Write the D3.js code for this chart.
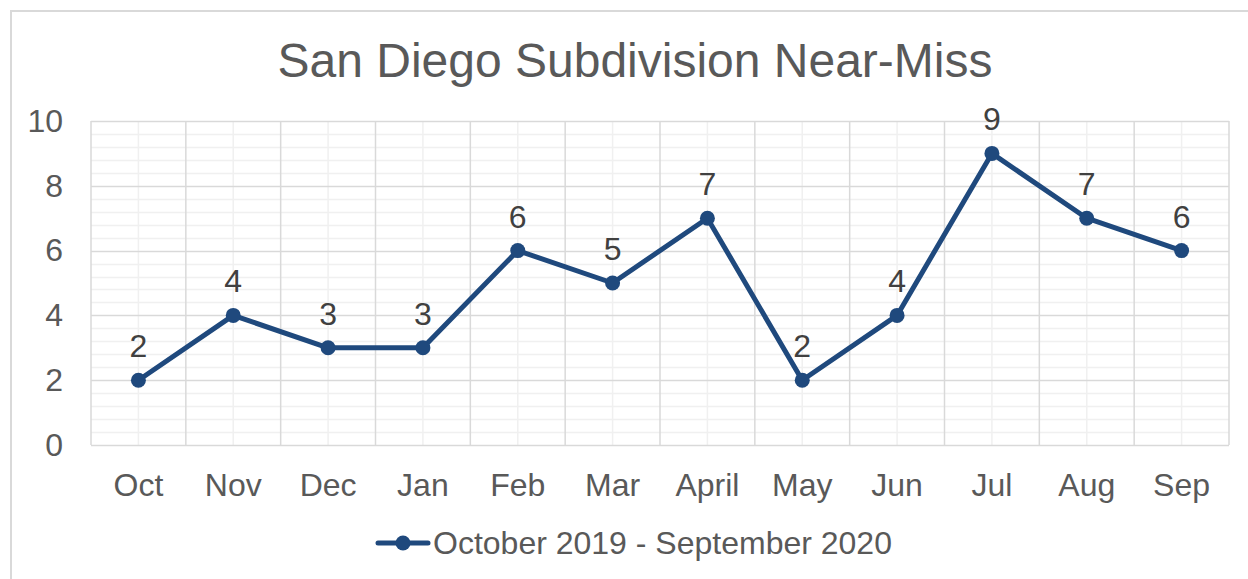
<!DOCTYPE html>
<html>
<head>
<meta charset="utf-8">
<script src="https://cdn.jsdelivr.net/npm/d3@7"></script>
<style>
  html, body { margin: 0; padding: 0; background: #fff; }
  svg { display: block; font-family: "Liberation Sans", Arial, sans-serif; }
</style>
</head>
<body>
<svg id="chart" width="1248" height="579"></svg>
<script>
// Monthly near-miss counts, San Diego Subdivision
const months = ["Oct", "Nov", "Dec", "Jan", "Feb", "Mar", "April", "May", "Jun", "Jul", "Aug", "Sep"];
const nearMiss = [2, 4, 3, 3, 6, 5, 7, 2, 4, 9, 7, 6];
const yTicks = [0, 2, 4, 6, 8, 10];
const seriesName = "October 2019 - September 2020";
const chartTitle = "San Diego Subdivision Near-Miss";

const svg = d3.select("#chart");
const W = 1248, H = 579;
const plot = { left: 91, right: 1229, top: 121, bottom: 445 };
const lineColor = "#1f497d";
const textColor = "#595959";
const labelFont = "32px";

// Outer chart frame
svg.append("rect")
  .attr("x", 11).attr("y", 11)
  .attr("width", W + 10).attr("height", H + 10)
  .attr("fill", "#fff").attr("stroke", "#d9d9d9").attr("stroke-width", 2);

const x = d3.scaleBand().domain(months).range([plot.left, plot.right]).padding(0);
const y = d3.scaleLinear().domain([0, 10]).range([plot.bottom, plot.top]);

const grid = svg.append("g");

// Minor horizontal gridlines every 0.4
const minorY = d3.range(0, 10.001, 0.4).filter(v => Math.abs(v / 2 - Math.round(v / 2)) > 1e-6);
grid.selectAll(".minor-h").data(minorY).join("line")
  .attr("x1", plot.left).attr("x2", plot.right)
  .attr("y1", d => Math.round(y(d)) + 0.5).attr("y2", d => Math.round(y(d)) + 0.5)
  .attr("stroke", "#f0f0f0").attr("stroke-width", 1.5);

// Minor vertical gridlines at category centres
grid.selectAll(".minor-v").data(months).join("line")
  .attr("x1", d => x(d) + x.bandwidth() / 2).attr("x2", d => x(d) + x.bandwidth() / 2)
  .attr("y1", plot.top).attr("y2", plot.bottom)
  .attr("stroke", "#f0f0f0").attr("stroke-width", 1.5);

// Major horizontal gridlines
grid.selectAll(".major-h").data(yTicks).join("line")
  .attr("x1", plot.left).attr("x2", plot.right)
  .attr("y1", d => Math.round(y(d)) + 0.5).attr("y2", d => Math.round(y(d)) + 0.5)
  .attr("stroke", "#d9d9d9").attr("stroke-width", 1.5);

// Major vertical gridlines at category boundaries
const bounds = months.map(m => x(m)).concat([plot.right]);
grid.selectAll(".major-v").data(bounds).join("line")
  .attr("x1", d => d).attr("x2", d => d)
  .attr("y1", plot.top).attr("y2", plot.bottom)
  .attr("stroke", "#d9d9d9").attr("stroke-width", 1.5);

// Title
svg.append("text")
  .attr("x", 635).attr("y", 77)
  .attr("text-anchor", "middle")
  .attr("fill", textColor)
  .style("font-size", "48px")
  .text(chartTitle);

// Y axis labels
const yAxis = d3.axisLeft(y).tickValues(yTicks).tickSize(0).tickPadding(28);
const gy = svg.append("g").attr("transform", `translate(${plot.left},0)`).call(yAxis);
gy.select(".domain").remove();
gy.selectAll("text").attr("fill", textColor).style("font-size", labelFont)
  .style("font-family", "'Liberation Sans', Arial, sans-serif");

// X axis labels
const xAxis = d3.axisBottom(x).tickSize(0).tickPadding(28);
const gx = svg.append("g").attr("transform", `translate(0,${plot.bottom})`).call(xAxis);
gx.select(".domain").remove();
gx.selectAll("text").attr("fill", textColor).style("font-size", labelFont)
  .style("font-family", "'Liberation Sans', Arial, sans-serif");

// Series line
const cx = (d, i) => x(months[i]) + x.bandwidth() / 2;
const line = d3.line().x(cx).y(d => y(d));
svg.append("path")
  .datum(nearMiss)
  .attr("d", line)
  .attr("fill", "none")
  .attr("stroke", lineColor)
  .attr("stroke-width", 5)
  .attr("stroke-linejoin", "round")
  .attr("stroke-linecap", "round");

// Markers
svg.selectAll(".pt").data(nearMiss).join("circle")
  .attr("cx", cx).attr("cy", d => y(d)).attr("r", 7.5)
  .attr("fill", lineColor);

// Data labels
svg.selectAll(".lbl").data(nearMiss).join("text")
  .attr("x", cx).attr("y", d => y(d) - 23)
  .attr("text-anchor", "middle")
  .attr("fill", "#404040")
  .style("font-size", labelFont)
  .text(d => d);

// Legend
const lg = svg.append("g");
lg.append("line").attr("x1", 378).attr("x2", 428).attr("y1", 543).attr("y2", 543)
  .attr("stroke", lineColor).attr("stroke-width", 5).attr("stroke-linecap", "round");
lg.append("circle").attr("cx", 403).attr("cy", 543).attr("r", 7.5).attr("fill", lineColor);
lg.append("text").attr("x", 433).attr("y", 554)
  .attr("fill", textColor).style("font-size", labelFont).text(seriesName);
</script>
</body>
</html>
